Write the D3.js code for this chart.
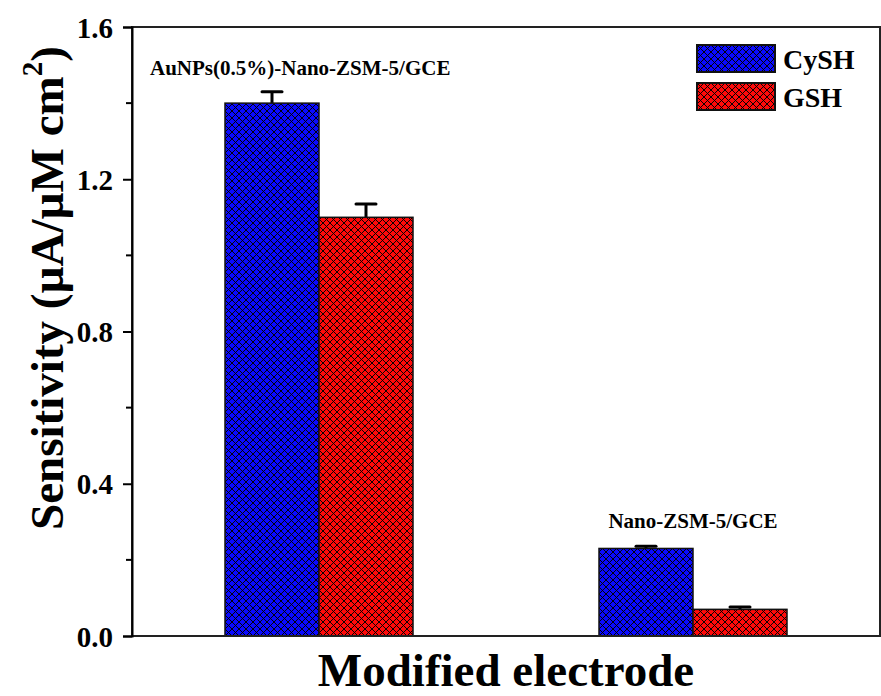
<!DOCTYPE html>
<html>
<head>
<meta charset="utf-8">
<script src="https://cdn.jsdelivr.net/npm/d3@7"></script>
<style>
  body { margin: 0; background: #fff; }
  text { font-family: "Liberation Serif", "Times New Roman", serif; font-weight: bold; }
</style>
</head>
<body>
<div id="chart"></div>
<script>
// data
const electrodes = ["AuNPs(0.5%)-Nano-ZSM-5/GCE", "Nano-ZSM-5/GCE"];
const analytes = ["CySH", "GSH"];
const cyshValues = [1.40, 0.23];
const gshValues = [1.10, 0.07];
const cyshErrors = [0.03, 0.006];
const gshErrors = [0.035, 0.006];
const yTicks = [0.0, 0.4, 0.8, 1.2, 1.6];
const yMinorTicks = [0.2, 0.6, 1.0, 1.4];
const colors = {CySH: "#0a0aff", GSH: "#ff0a0a"};

const width = 881, height = 696;
const margin = {top: 27, right: 1, bottom: 60, left: 132};
const innerW = width - margin.left - margin.right;
const innerH = height - margin.top - margin.bottom;

const svg = d3.select("#chart").append("svg")
  .attr("width", width)
  .attr("height", height);

// crosshatch patterns
const defs = svg.append("defs");
analytes.forEach(a => {
  const p = defs.append("pattern")
    .attr("id", "hatch-" + a)
    .attr("patternUnits", "userSpaceOnUse")
    .attr("width", 7)
    .attr("height", 7);
  p.append("rect").attr("width", 7).attr("height", 7).attr("fill", colors[a]);
  p.append("path")
    .attr("d", "M0,0 L7,7 M7,0 L0,7 M-1,6 L1,8 M6,-1 L8,1 M-1,1 L1,-1 M6,8 L8,6")
    .attr("stroke", "#000")
    .attr("stroke-width", 0.95);
});

const g = svg.append("g").attr("transform", `translate(${margin.left},${margin.top})`);

const x0 = d3.scaleBand().domain(electrodes).range([0, innerW]).padding(0);
const x1 = d3.scaleBand().domain(analytes).range([0, 188]);
const y = d3.scaleLinear().domain([0, 1.6]).range([innerH, 0]);

const rows = electrodes.map((e, i) => ({
  electrode: e,
  bars: [
    {key: "CySH", value: cyshValues[i], err: cyshErrors[i]},
    {key: "GSH", value: gshValues[i], err: gshErrors[i]}
  ]
}));

const groups = g.selectAll(".group")
  .data(rows)
  .join("g")
  .attr("class", "group")
  .attr("transform", d => `translate(${x0(d.electrode) + x0.bandwidth() / 2 - 94},0)`);

// error bars (upper half only)
groups.selectAll(".err")
  .data(d => d.bars)
  .join("g")
  .attr("class", "err")
  .each(function(d) {
    const cx = x1(d.key) + x1.bandwidth() / 2;
    const sel = d3.select(this);
    sel.append("line")
      .attr("x1", cx).attr("x2", cx)
      .attr("y1", y(d.value)).attr("y2", y(d.value + d.err))
      .attr("stroke", "#000").attr("stroke-width", 3);
    sel.append("line")
      .attr("x1", cx - 10).attr("x2", cx + 10)
      .attr("y1", y(d.value + d.err)).attr("y2", y(d.value + d.err))
      .attr("stroke", "#000").attr("stroke-width", 3)
      .attr("stroke-linecap", "round");
  });

groups.selectAll("rect")
  .data(d => d.bars)
  .join("rect")
  .attr("x", d => x1(d.key))
  .attr("y", d => y(d.value))
  .attr("width", x1.bandwidth())
  .attr("height", d => innerH - y(d.value))
  .attr("fill", d => `url(#hatch-${d.key})`)
  .attr("stroke", "#111")
  .attr("stroke-width", 1.5);

// group labels
g.selectAll(".glabel")
  .data(electrodes)
  .join("text")
  .attr("class", "glabel")
  .attr("x", (d, i) => i === 0 ? 18 : x0(d) + x0.bandwidth() / 2)
  .attr("y", (d, i) => i === 0 ? y(1.475) : y(0.285))
  .attr("text-anchor", (d, i) => i === 0 ? "start" : "middle")
  .attr("font-size", 21)
  .text(d => d);

// frame
g.append("rect")
  .attr("width", innerW).attr("height", innerH)
  .attr("fill", "none").attr("stroke", "#222").attr("stroke-width", 2);

// y axis
const yAxis = g.append("g")
  .call(d3.axisLeft(y).tickValues(yTicks).tickFormat(d3.format(".1f")).tickSize(9).tickPadding(10));
yAxis.select(".domain").attr("stroke-width", 2);
yAxis.selectAll(".tick line").attr("stroke-width", 2);
yAxis.selectAll(".tick text")
  .attr("font-size", 29)
  .attr("font-family", "Liberation Serif, serif")
  .attr("font-weight", "bold")
  .attr("fill", "#000")
  .attr("dy", "0.35em");

g.selectAll(".minor")
  .data(yMinorTicks)
  .join("line")
  .attr("class", "minor")
  .attr("x1", -6).attr("x2", 0)
  .attr("y1", d => y(d)).attr("y2", d => y(d))
  .attr("stroke", "#000").attr("stroke-width", 2);

// axis titles
const yt = svg.append("text")
  .attr("transform", "translate(63,288) rotate(-90)")
  .attr("text-anchor", "middle")
  .attr("font-size", 47);
yt.append("tspan").text("Sensitivity (µA/µM cm");
yt.append("tspan").attr("font-size", 29).attr("dy", -21).text("2");
yt.append("tspan").attr("dy", 21).text(")");

svg.append("text")
  .attr("x", margin.left + innerW / 2)
  .attr("y", 686)
  .attr("text-anchor", "middle")
  .attr("font-size", 47)
  .text("Modified electrode");

// legend
const legend = svg.append("g").attr("transform", "translate(697,45)");
const li = legend.selectAll("g")
  .data(analytes)
  .join("g")
  .attr("transform", (d, i) => `translate(0,${i * 38})`);
li.append("rect")
  .attr("width", 78).attr("height", 27)
  .attr("fill", d => `url(#hatch-${d})`)
  .attr("stroke", "#111").attr("stroke-width", 2);
li.append("text")
  .attr("x", 86).attr("y", 24)
  .attr("font-size", 28)
  .text(d => d);
</script>
</body>
</html>
